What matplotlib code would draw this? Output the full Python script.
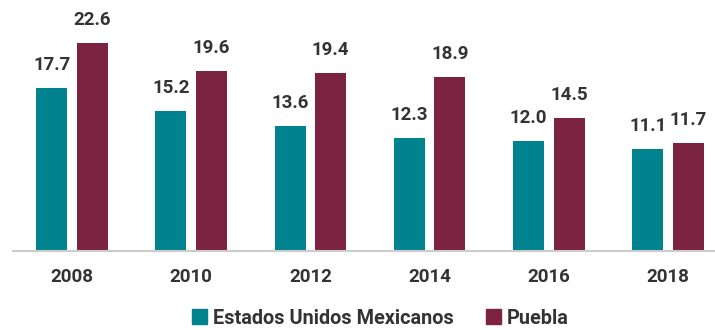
import numpy as np
import matplotlib.pyplot as plt
from matplotlib.patches import Patch

plt.rcParams['font.family'] = ['Roboto', 'DejaVu Sans']

# datos
years = ['2008', '2010', '2012', '2014', '2016', '2018']
mexico = [17.7, 15.2, 13.6, 12.3, 12.0, 11.1]
puebla = [22.6, 19.6, 19.4, 18.9, 14.5, 11.7]

c_mex = '#00838F'
c_pue = '#7B2341'
c_txt = '#333333'

fig = plt.figure(figsize=(7.15, 3.3), dpi=100)
ax = fig.add_axes([13 / 715, 1 - 251 / 330, 1 - 13 / 715, 251 / 330])

x = np.arange(len(years))
w = 0.26
b1 = ax.bar(x - 0.17, mexico, w, color=c_mex)
b2 = ax.bar(x + 0.17, puebla, w, color=c_pue)

for bars, vals in ((b1, mexico), (b2, puebla)):
    for rect, v in zip(bars, vals):
        ax.annotate(f'{v:.1f}', (rect.get_x() + rect.get_width() / 2, v),
                    xytext=(0, 13), textcoords='offset points',
                    ha='center', va='baseline', fontsize=13.5,
                    fontweight='bold', color=c_txt)

ax.set_xlim(-0.495, 5.394)
ax.set_ylim(0, 27.3)
ax.set_xticks(x)
ax.set_xticklabels(years, fontsize=13.5, fontweight='bold', color=c_txt)
ax.tick_params(axis='x', length=0, pad=12)
ax.set_yticks([])
for s in ['top', 'right', 'left']:
    ax.spines[s].set_visible(False)
ax.spines['bottom'].set_color('#cccccc')
ax.spines['bottom'].set_linewidth(1.5)

handles = [Patch(color=c_mex, label='Estados Unidos Mexicanos'),
           Patch(color=c_pue, label='Puebla')]
fig.legend(handles=handles, loc='center', bbox_to_anchor=(0.532, 1 - 318 / 330),
           ncol=2, frameon=False, handlelength=0.75, handleheight=0.75,
           handletextpad=0.3, columnspacing=1.6,
           prop={'size': 14.3, 'weight': 'bold'}, labelcolor=c_txt)

fig.savefig('out.png', dpi=100)
